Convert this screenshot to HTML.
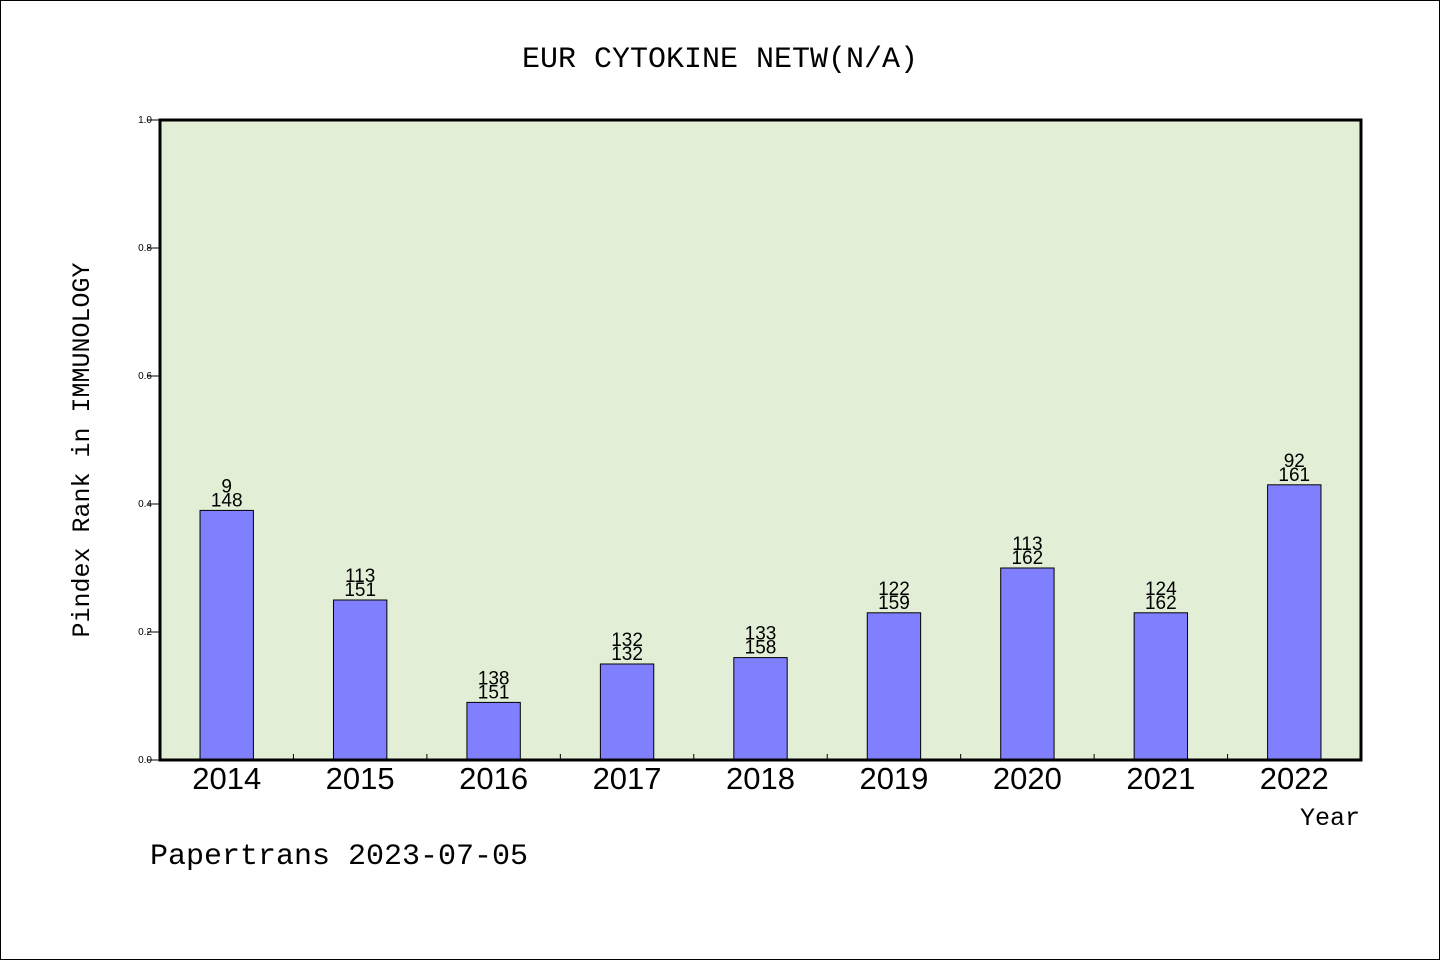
<!DOCTYPE html>
<html><head><meta charset="utf-8"><style>
body{margin:0;background:#fff}
svg{display:block}
</style></head><body>
<svg id="chart" width="1440" height="960" xmlns="http://www.w3.org/2000/svg">
<rect x="0.5" y="0.5" width="1439" height="959" fill="#fff" stroke="#000"/>
<text x="720" y="67" text-anchor="middle" font-family="'WenQuanYi Zen Hei','Liberation Mono',monospace" font-size="30">EUR CYTOKINE NETW(N/A)</text>
<rect x="160" y="120" width="1201" height="640" fill="#e2efd6"/>
<g id="bars"></g>
<rect x="160" y="120" width="1201" height="640" fill="none" stroke="#000" stroke-width="3"/>
<text transform="translate(89,450) rotate(-90)" text-anchor="middle" font-family="'WenQuanYi Zen Hei','Liberation Mono',monospace" font-size="25">Pindex Rank in IMMUNOLOGY</text>
<text x="1360" y="825" text-anchor="end" font-family="'WenQuanYi Zen Hei','Liberation Mono',monospace" font-size="25">Year</text>
<text x="150" y="864" font-family="'WenQuanYi Zen Hei','Liberation Mono',monospace" font-size="30">Papertrans 2023-07-05</text>
</svg>
<script>
const categories=["2014","2015","2016","2017","2018","2019","2020","2021","2022"];
const values=[0.39,0.25,0.09,0.15,0.16,0.23,0.30,0.23,0.43];
const topLabels=["9","113","138","132","133","122","113","124","92"];
const bottomLabels=["148","151","151","132","158","159","162","162","161"];
const yTicks=[0,0.2,0.4,0.6,0.8,1.0];
const NS="http://www.w3.org/2000/svg";
const X0=160,X1=1361,Y0=760,Y1=120;
const band=(X1-X0)/categories.length;
const xc=i=>X0+band*(i+0.5);
const y=v=>Y0-(Y0-Y1)*v;
const g=document.getElementById('bars');
function mk(t,a){const e=document.createElementNS(NS,t);for(const k in a)e.setAttribute(k,a[k]);g.appendChild(e);return e;}
yTicks.forEach(t=>{
  const l=mk('line',{x1:147,x2:160,y1:y(t),y2:y(t),stroke:'#000'});
  
  
  const tx=mk('text',{x:152,y:y(t)+3,'text-anchor':'end','font-family':'Liberation Sans,sans-serif','font-size':10});
  tx.textContent=t.toFixed(1);
  
  
});
categories.forEach((c,i)=>{
  const bw=band*0.4;
  const r=mk('rect',{x:xc(i)-bw/2,y:y(values[i]),width:bw,height:Y0-y(values[i]),fill:'#8080ff',stroke:'#000','stroke-width':1});
  
  
  if(i>0){
    const tk=mk('line',{x1:X0+band*i,x2:X0+band*i,y1:Y0,y2:Y0-6,stroke:'#000'});
    
    
  }
  const t1=mk('text',{x:xc(i),y:y(values[i])-18,'text-anchor':'middle','font-family':'Liberation Sans,sans-serif','font-size':19});
  t1.textContent=topLabels[i];
  
  
  const t2=mk('text',{x:xc(i),y:y(values[i])-4,'text-anchor':'middle','font-family':'Liberation Sans,sans-serif','font-size':19});
  t2.textContent=bottomLabels[i];
  
  
  const xl=mk('text',{x:xc(i),y:789,'text-anchor':'middle','font-family':'Liberation Sans,sans-serif','font-size':31});
  xl.textContent=c;
  
  
});
</script>
</body></html>
